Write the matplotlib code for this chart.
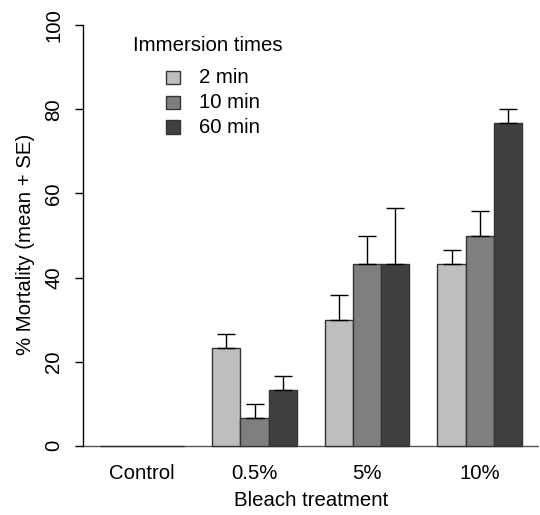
import numpy as np
import matplotlib
matplotlib.use("Agg")
import matplotlib.pyplot as plt
from matplotlib.patches import Rectangle

categories = ["Control", "0.5%", "5%", "10%"]
series = ["2 min", "10 min", "60 min"]
mean_2 = [0.0, 23.3, 30.0, 43.3]
mean_10 = [0.0, 6.7, 43.3, 50.0]
mean_60 = [0.0, 13.3, 43.3, 76.7]
se_2 = [0.0, 3.3, 5.8, 3.3]
se_10 = [0.0, 3.3, 6.7, 5.8]
se_60 = [0.0, 3.3, 13.3, 3.3]
colors = ["#BEBEBE", "#7F7F7F", "#404040"]
yticks = [0, 20, 40, 60, 80, 100]

means = [mean_2, mean_10, mean_60]
ses = [se_2, se_10, se_60]

W, H = 540, 515
plt.rcParams['font.family'] = ['Liberation Sans', 'DejaVu Sans']
fig = plt.figure(figsize=(W / 100, H / 100), dpi=100)
L, R, T, B = 82.8, 538.8, 8.5, 462.5
ax = fig.add_axes([L / W, 1 - B / H, (R - L) / W, (B - T) / H])

fs = 14.7
ngroups = len(categories)
group_idx = np.arange(ngroups)
ax.axhline(0, color="#555555", lw=1.0, zorder=1)
for s in range(len(series)):
    lefts = 1 + 4 * group_idx + s
    centers = lefts + 0.5
    m = np.asarray(means[s])
    e = np.asarray(ses[s])
    ax.bar(lefts, m, width=1.0, align="edge", color=colors[s],
           edgecolor="#333333", linewidth=1.0, zorder=2)
    keep = e > 0
    ax.errorbar(centers[keep], m[keep], yerr=[np.zeros(keep.sum()), e[keep]], fmt="none",
                ecolor="black", elinewidth=1.0, capsize=6.3, capthick=1.0, zorder=3)

ax.set_xlim(0.4, 16.6)
ax.set_ylim(-4, 104)
for sp in ["top", "right", "bottom"]:
    ax.spines[sp].set_visible(False)
ax.spines["left"].set_bounds(0, 100)
ax.spines["left"].set_linewidth(1.0)
ax.set_yticks(yticks)
ax.set_yticklabels([str(v) for v in yticks], rotation=90, va="center", fontsize=fs)
ax.tick_params(axis="y", length=6, width=1.0, pad=8)
ax.set_xticks(1 + 4 * group_idx + 1.5)
ax.set_xticklabels(categories, fontsize=fs)
ax.tick_params(axis="x", length=0, pad=1)

fig.text(26 / W, 1 - 244.5 / H, "% Mortality (mean + SE)", rotation=90,
         ha="center", va="center", fontsize=fs)
fig.text(310.8 / W, 1 - 500 / H, "Bleach treatment", ha="center", va="center", fontsize=fs)

# legend
fig.text(133.3 / W, 1 - 45.7 / H, "Immersion times", ha="left", va="center", fontsize=fs)
row_y = [77.3, 102.3, 127.0]
for s in range(len(series)):
    y = row_y[s]
    fig.patches.append(Rectangle((166 / W, 1 - (y + 6.5) / H), 13.5 / W, 13 / H,
                                 transform=fig.transFigure, facecolor=colors[s],
                                 edgecolor="#333333", linewidth=1.0))
    fig.text(199 / W, 1 - y / H, series[s], ha="left", va="center", fontsize=fs)

fig.savefig("out.png", dpi=100)
